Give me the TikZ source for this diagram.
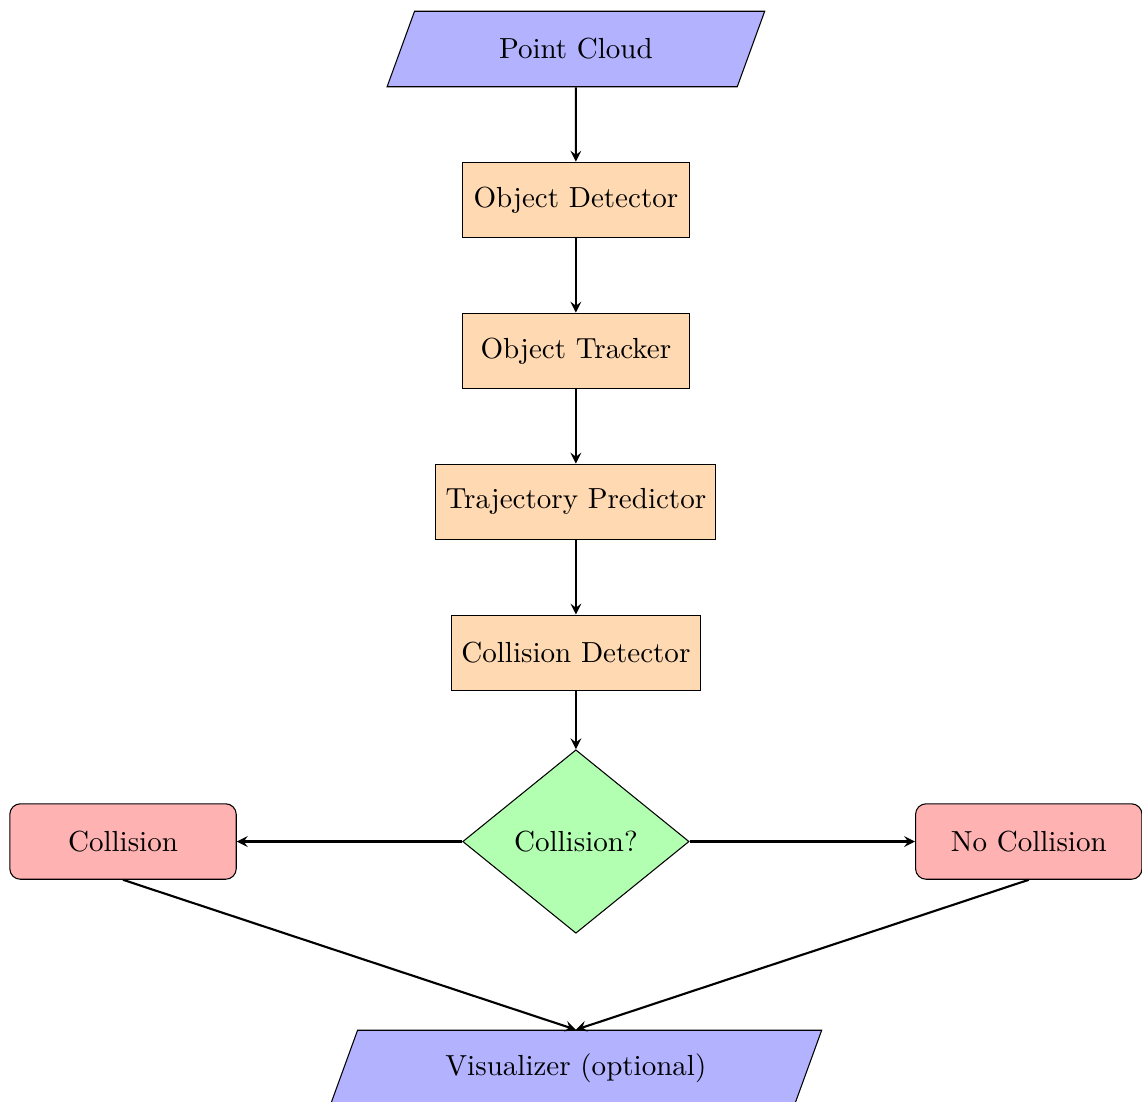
\documentclass[tikz,border=0pt,11pt]{standalone}
\usetikzlibrary{shapes.geometric,arrows.meta}
\begin{document}
\begin{tikzpicture}[
  io/.style={trapezium, trapezium left angle=70, trapezium right angle=110, minimum width=3cm, minimum height=1cm, text centered, draw=black, fill=blue!30},
  process/.style={rectangle, minimum width=3cm, minimum height=1cm, text centered, draw=black, fill=orange!30},
  decision/.style={diamond, minimum width=3cm, minimum height=1cm, text centered, draw=black, fill=green!30},
  startstop/.style={rectangle, rounded corners, minimum width=3cm, minimum height=1cm, text centered, draw=black, fill=red!30},
  arrow/.style={thick,->,>=stealth}]
\useasboundingbox (-7.63,0.649) rectangle (7.50,-13.95);
\node (pc) [io] at (0,0) {Point Cloud};
\node (od) [process] at (0,-2) {Object Detector};
\node (ot) [process] at (0,-4) {Object Tracker};
\node (tp) [process] at (0,-6) {Trajectory Predictor};
\node (cd) [process] at (0,-8) {Collision Detector};
\node (dec) [decision] at (0,-10.5) {Collision?};
\node (col) [startstop] at (-6,-10.5) {Collision};
\node (nocol) [startstop] at (6,-10.5) {No Collision};
\node (vis) [io] at (0,-13.5) {Visualizer (optional)};
\draw [arrow] (pc) -- (od);
\draw [arrow] (od) -- (ot);
\draw [arrow] (ot) -- (tp);
\draw [arrow] (tp) -- (cd);
\draw [arrow] (cd) -- (dec);
\draw [arrow] (dec) -- (col);
\draw [arrow] (dec) -- (nocol);
\draw [arrow] (col.south) -- (vis.north);
\draw [arrow] (nocol.south) -- (vis.north);
\end{tikzpicture}
\end{document}
